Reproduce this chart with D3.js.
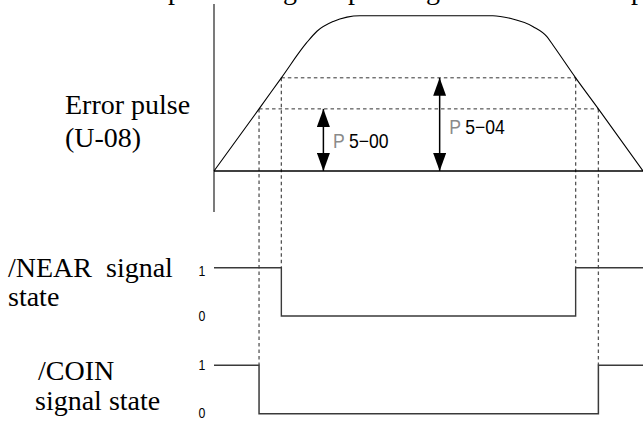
<!DOCTYPE html>
<html><head><meta charset="utf-8">
<script src="https://cdn.jsdelivr.net/npm/d3@7"></script>
<style>
html,body{margin:0;padding:0;background:#fff;}
svg{display:block;}
.serif{font-family:"Liberation Serif","Times New Roman",serif;}
.sans{font-family:"Liberation Sans",Arial,sans-serif;}
</style></head>
<body>
<svg id="c" width="643" height="421"></svg>
<script>
// ---- data ----
// error pulse profile: [time, % of peak]
const errorTime  = [0, 10.5, 15.7, 21.6, 24.0, 27.8, 31.0, 34.0, 65.0, 69.0, 74.4, 77.6, 79.0, 84.3, 89.6, 100];
const errorValue = [0, 40,   60,   82.6, 90.0, 96.3, 99.1, 100,  100,  98.3, 92.9, 86.5, 81.1, 60,   40,   0];
const nearLevel = 60;   // P5-04
const coinLevel = 40;   // P5-00
const nearEdges = [15.7, 84.3];   // /NEAR falls / rises
const coinEdges = [10.5, 89.6];   // /COIN falls / rises
const nearState = [[0,1],[15.7,0],[84.3,1],[100,1]];
const coinState = [[0,1],[10.5,0],[89.6,1],[100,1]];
const arrowTimes = [25.5, 52.6];
const arrowLevels = [coinLevel, nearLevel];
const arrowCodes = ["5\u221200", "5\u221204"];
const stateTicks = [0, 1];
const topGlyphs = ["p","g","p","g","p"];
const topGlyphX = [175, 290, 355, 433, 638];

const svg = d3.select("#c");
const x = d3.scaleLinear().domain([0,100]).range([214,643]);
const yErr = d3.scaleLinear().domain([0,100]).range([171,15.7]);
const yNear = d3.scaleLinear().domain([0,1]).range([316,267.7]);
const yCoin = d3.scaleLinear().domain([0,1]).range([413.7,365.3]);

// cut-off text line at top (only descenders visible, as in the source)
svg.selectAll("text.top").data(topGlyphs).join("text")
  .attr("class","serif top").attr("x",(d,i)=>topGlyphX[i]).attr("y",-1)
  .attr("text-anchor","middle").attr("font-size",28).attr("fill","#000").text(d=>d);

// defs: arrowheads
const defs = svg.append("defs");
defs.append("marker").attr("id","ah").attr("markerUnits","userSpaceOnUse")
  .attr("viewBox","0 0 18 13").attr("refX",18).attr("refY",6.5)
  .attr("markerWidth",18).attr("markerHeight",13).attr("orient","auto-start-reverse")
  .append("path").attr("d","M0,0L18,6.5L0,13Z").attr("fill","#000");

// vertical axis
svg.append("line").attr("x1",x(0)).attr("x2",x(0)).attr("y1",4).attr("y2",212)
  .attr("stroke","#222").attr("stroke-width",1.2);

// dashed guide lines
const dash = "3.5,3";
[[nearLevel, nearEdges, yNear(1)], [coinLevel, coinEdges, yCoin(1)]].forEach(([lv, edges, yb]) => {
  svg.append("line").attr("x1",x(edges[0])).attr("x2",x(edges[1]))
    .attr("y1",yErr(lv)).attr("y2",yErr(lv))
    .attr("stroke","#333").attr("stroke-width",1).attr("stroke-dasharray",dash);
  edges.forEach(t => {
    svg.append("line").attr("x1",x(t)).attr("x2",x(t))
      .attr("y1",yErr(lv)).attr("y2",yb)
      .attr("stroke","#555").attr("stroke-width",1.3).attr("stroke-dasharray",dash);
  });
});

// baseline
svg.append("line").attr("x1",x(0)).attr("x2",x(100)).attr("y1",yErr(0)).attr("y2",yErr(0))
  .attr("stroke","#000").attr("stroke-width",1.6);

// error pulse curve
const pts = errorTime.map((t,i)=>[t,errorValue[i]]);
svg.append("path").datum(pts)
  .attr("d", d3.line().x(d=>x(d[0])).y(d=>yErr(d[1])).curve(d3.curveMonotoneX))
  .attr("fill","none").attr("stroke","#000").attr("stroke-width",1.1);

// arrows + labels
arrowTimes.forEach((t,i) => {
  svg.append("line").attr("x1",x(t)).attr("x2",x(t))
    .attr("y1",yErr(0)).attr("y2",yErr(arrowLevels[i]))
    .attr("stroke","#000").attr("stroke-width",1.5)
    .attr("marker-start","url(#ah)").attr("marker-end","url(#ah)");
});
const labY = [148.3, 134];
arrowTimes.forEach((t,i) => {
  const g = svg.append("text").attr("class","sans").attr("font-size",20)
    .attr("transform",`translate(${x(t)+9.5},${labY[i]}) scale(0.88,1)`);
  g.append("tspan").attr("fill","#8a8a8a").text("P");
  g.append("tspan").attr("dx",5).attr("fill","#000").text(arrowCodes[i]);
});

// signal state traces
const stepLine = ys => d3.line().x(d=>x(d[0])).y(d=>ys(d[1])).curve(d3.curveStepAfter);
svg.append("path").datum(nearState).attr("d",stepLine(yNear))
  .attr("fill","none").attr("stroke","#3a3a3a").attr("stroke-width",1.4);
svg.append("path").datum(coinState).attr("d",stepLine(yCoin))
  .attr("fill","none").attr("stroke","#3a3a3a").attr("stroke-width",1.5);

// state tick labels
[[yNear,[276,321]],[yCoin,[370,418]]].forEach(([ys,bl]) => {
  stateTicks.forEach(v => {
    svg.append("text").attr("class","sans").attr("font-size",14)
      .attr("transform",`translate(202,${v===1?bl[0]:bl[1]}) scale(0.88,1)`)
      .attr("text-anchor","middle").attr("fill","#000").text(v);
  });
});

// row titles
const titles = [
  ["Error pulse",65,114],["(U-08)",65,147],
  ["/NEAR\u00a0 signal",8,277],["state",8,306],
  ["/COIN",38,380],["signal state",35,410]
];
svg.selectAll("text.ttl").data(titles).join("text")
  .attr("class","serif ttl").attr("font-size",28).attr("fill","#000")
  .attr("x",d=>d[1]).attr("y",d=>d[2]).text(d=>d[0]);
</script>
</body></html>
